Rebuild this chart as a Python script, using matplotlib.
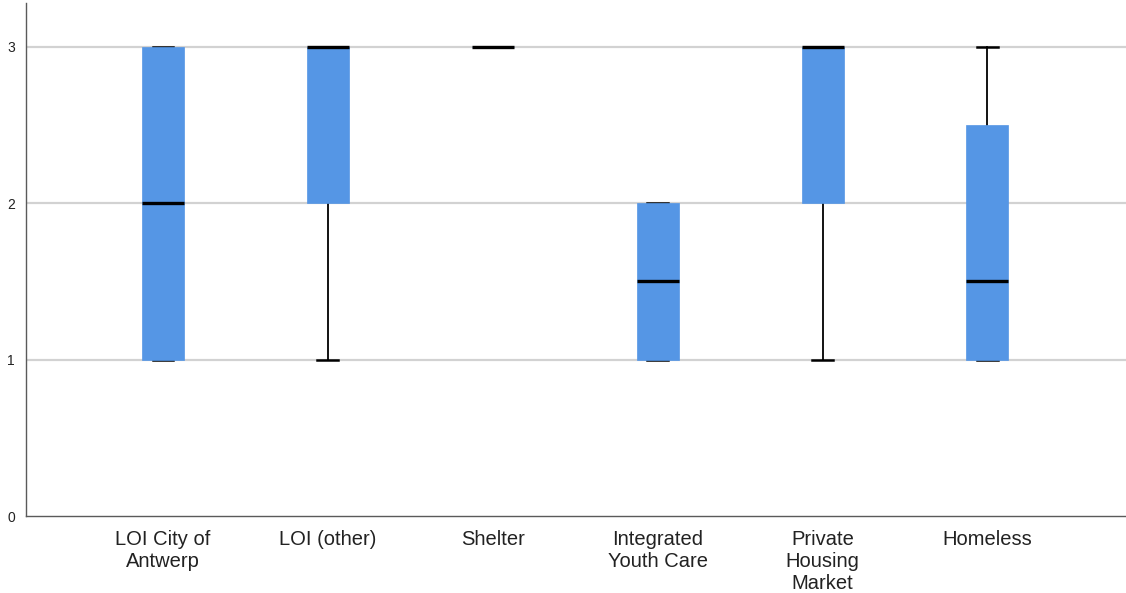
import matplotlib
matplotlib.use('Agg')
import matplotlib.pyplot as plt

# Data
categories = ['LOI City of\nAntwerp', 'LOI (other)', 'Shelter',
              'Integrated\nYouth Care', 'Private\nHousing\nMarket', 'Homeless']
whis_lo = [1, 1, 3, 1, 1, 1]
q1 = [1, 2, 3, 1, 2, 1]
medians = [2, 3, 3, 1.5, 3, 1.5]
q3 = [3, 3, 3, 2, 3, 2.5]
whis_hi = [3, 3, 3, 2, 3, 3]
y_ticks = [0, 1, 2, 3]

plt.rcParams['font.family'] = ['Liberation Sans', 'DejaVu Sans']

fig = plt.figure(figsize=(11.26, 5.93), dpi=100)
ax = fig.add_axes([26 / 1126, 77 / 593, 1 - 26 / 1126, (516 - 3) / 593])

stats = []
for i in range(len(categories)):
    stats.append(dict(whislo=whis_lo[i], q1=q1[i], med=medians[i],
                      q3=q3[i], whishi=whis_hi[i], fliers=[]))

positions = list(range(1, len(categories) + 1))
bp = ax.bxp(stats, positions=positions, widths=0.255, patch_artist=True,
            showfliers=False, capwidths=0.125,
            boxprops=dict(facecolor='#5596e5', edgecolor='#5596e5', linewidth=0.5),
            medianprops=dict(color='black', linewidth=2.4, solid_capstyle='butt'),
            whiskerprops=dict(color='black', linewidth=1.3),
            capprops=dict(color='black', linewidth=1.8))
# boxes sit on top of the caps, like the original
for b in bp['boxes']:
    b.set_zorder(2.5)
for m in bp['medians']:
    m.set_zorder(3)

for y in y_ticks[1:]:
    ax.axhline(y, color='#d2d2d2', linewidth=1.6, zorder=0)

ax.set_xlim(0.17, 6.84)
ax.set_ylim(0, 3.28)
ax.set_yticks(y_ticks)
ax.set_yticklabels([str(t) for t in y_ticks], fontsize=10, color='#222222')
ax.set_xticks(positions)
ax.set_xticklabels(categories, fontsize=14.5, color='#222222', linespacing=1.2)
ax.tick_params(axis='both', length=0)
ax.tick_params(axis='x', pad=10)
ax.tick_params(axis='y', pad=8)

for side in ['top', 'right']:
    ax.spines[side].set_visible(False)
for side in ['left', 'bottom']:
    ax.spines[side].set_color('#5a5a5a')
    ax.spines[side].set_linewidth(1.0)

fig.savefig('out.png', dpi=100)
